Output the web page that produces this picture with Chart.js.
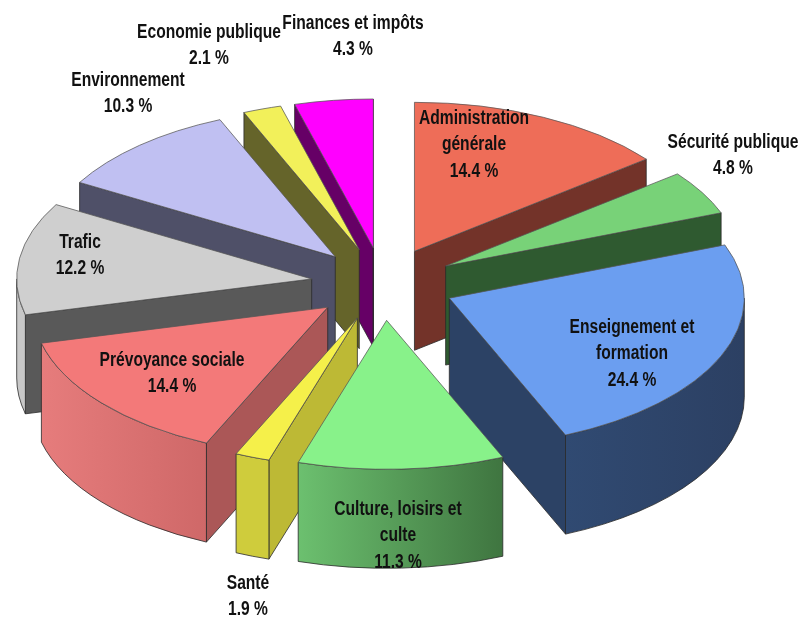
<!DOCTYPE html>
<html>
<head>
<meta charset="utf-8">
<script src="https://cdn.jsdelivr.net/npm/chart.js@4"></script>
<style>
  html, body { margin: 0; background: #fff; }
  canvas { display: block; }
</style>
</head>
<body>
<canvas id="pieChart" width="802" height="619"></canvas>
<script>
// --- Data ---
const categories = ["Administration générale", "Sécurité publique", "Enseignement et formation",
  "Culture, loisirs et culte", "Santé", "Prévoyance sociale", "Trafic", "Environnement",
  "Economie publique", "Finances et impôts"];
const values = [14.4, 4.8, 24.4, 11.3, 1.9, 14.4, 12.2, 10.3, 2.1, 4.3];
const labelLines = [["Administration", "générale"], ["Sécurité publique"], ["Enseignement et", "formation"],
  ["Culture, loisirs et", "culte"], ["Santé"], ["Prévoyance sociale"], ["Trafic"], ["Environnement"],
  ["Economie publique"], ["Finances et impôts"]];

// --- Colours ---
const topColors = ["#ee6d58", "#78d278", "#6b9ef0", "#88f28a", "#f5f04a", "#f37979", "#cfcfcf", "#c0c0f2", "#f2f05a", "#ff00ff"];
const wallColors = ["#733329", "#2f5a30", "#2c4265", "#4b8a4e", "#bdb935", "#ab5757", "#595959", "#4f5068", "#65642a", "#660066"];
const rimLeft = ["#733329", "#2f5a30", "#304a72", "#6cc06f", "#cfcc3c", "#e67c7c", "#c8c8c8", "#4f5068", "#65642a", "#660066"];
const rimRight = ["#733329", "#2f5a30", "#2c4063", "#3f7540", "#cfcc3c", "#cf6868", "#c8c8c8", "#4f5068", "#65642a", "#660066"];

// --- Layout of the fake 3D ---
const squash = 0.505;
const depth = 99;
const explode = 72;
const labelX = [474, 733, 632, 398, 248, 172, 80, 128, 209, 353];
const labelY = [118, 142, 327, 509, 583, 360, 242, 80, 32, 23];
const lineGap = 26.5;
const textStretch = 0.78;

function drawWalls(ctx, arc, i) {
  const {x, y, startAngle: a, endAngle: b, outerRadius: r} = arc;
  const mid = (a + b) / 2;
  const cx = x + Math.cos(mid) * explode;
  const cy = y + Math.sin(mid) * explode * squash;
  ctx.lineWidth = 0.8;
  ctx.strokeStyle = "#2a2a2a";

  const wall = (ang) => {
    const ex = cx + Math.cos(ang) * r;
    const ey = cy + Math.sin(ang) * r * squash;
    ctx.beginPath();
    ctx.moveTo(cx, cy);
    ctx.lineTo(ex, ey);
    ctx.lineTo(ex, ey + depth);
    ctx.lineTo(cx, cy + depth);
    ctx.closePath();
    ctx.fillStyle = wallColors[i];
    ctx.fill();
    ctx.stroke();
  };
  // only the faces turned towards the viewer
  if (-Math.cos(a) > 0) wall(a);
  if (Math.cos(b) > 0) wall(b);

  const a0 = Math.max(a, 0);
  const a1 = Math.min(b, Math.PI);
  if (a1 > a0) {
    const right = cx + Math.cos(a0) * r;
    const left = cx + Math.cos(a1) * r;
    const grad = ctx.createLinearGradient(left, 0, right, 0);
    grad.addColorStop(0, rimLeft[i]);
    grad.addColorStop(1, rimRight[i]);
    ctx.beginPath();
    ctx.ellipse(cx, cy, r, r * squash, 0, a0, a1);
    ctx.ellipse(cx, cy + depth, r, r * squash, 0, a1, a0, true);
    ctx.closePath();
    ctx.fillStyle = grad;
    ctx.fill();
    ctx.stroke();
  }
}

// Draws the arcs squashed, pulled apart and with side walls
const pie3d = {
  id: "pie3d",
  beforeDatasetsDraw(chart) {
    const ctx = chart.ctx;
    const arcs = chart.getDatasetMeta(0).data;
    const order = arcs.map((arc, i) => i).sort((p, q) => {
      const mp = (arcs[p].startAngle + arcs[p].endAngle) / 2;
      const mq = (arcs[q].startAngle + arcs[q].endAngle) / 2;
      return Math.sin(mp) - Math.sin(mq);
    });
    order.forEach(i => drawWalls(ctx, arcs[i], i));
    order.forEach(i => {
      const arc = arcs[i];
      const mid = (arc.startAngle + arc.endAngle) / 2;
      ctx.save();
      ctx.translate(arc.x, arc.y);
      ctx.scale(1, squash);
      ctx.translate(-arc.x, -arc.y);
      ctx.translate(Math.cos(mid) * explode, Math.sin(mid) * explode);
      arc.draw(ctx);
      ctx.restore();
    });
    return false;
  },
  afterDraw(chart) {
    const ctx = chart.ctx;
    ctx.fillStyle = "#111";
    ctx.font = 'bold 20px "Liberation Sans"';
    ctx.textAlign = "center";
    ctx.textBaseline = "middle";
    categories.forEach((c, i) => {
      const lines = [...labelLines[i], values[i].toFixed(1) + " %"];
      lines.forEach((line, k) => {
        // the labels are a condensed bold face, no narrow font is installed
        ctx.save();
        ctx.translate(labelX[i], labelY[i] + k * lineGap);
        ctx.scale(textStretch, 1);
        ctx.fillText(line, 0, 0);
        ctx.restore();
      });
    });
  }
};

new Chart(document.getElementById("pieChart"), {
  type: "pie",
  plugins: [pie3d],
  data: {
    labels: categories,
    datasets: [{
      data: values,
      backgroundColor: topColors,
      borderColor: "#555",
      borderWidth: 1,
      radius: 295
    }]
  },
  options: {
    responsive: false,
    animation: false,
    layout: { padding: { right: 36, bottom: 51 } },
    plugins: { legend: { display: false }, tooltip: { enabled: false } }
  }
});
</script>
</body>
</html>
